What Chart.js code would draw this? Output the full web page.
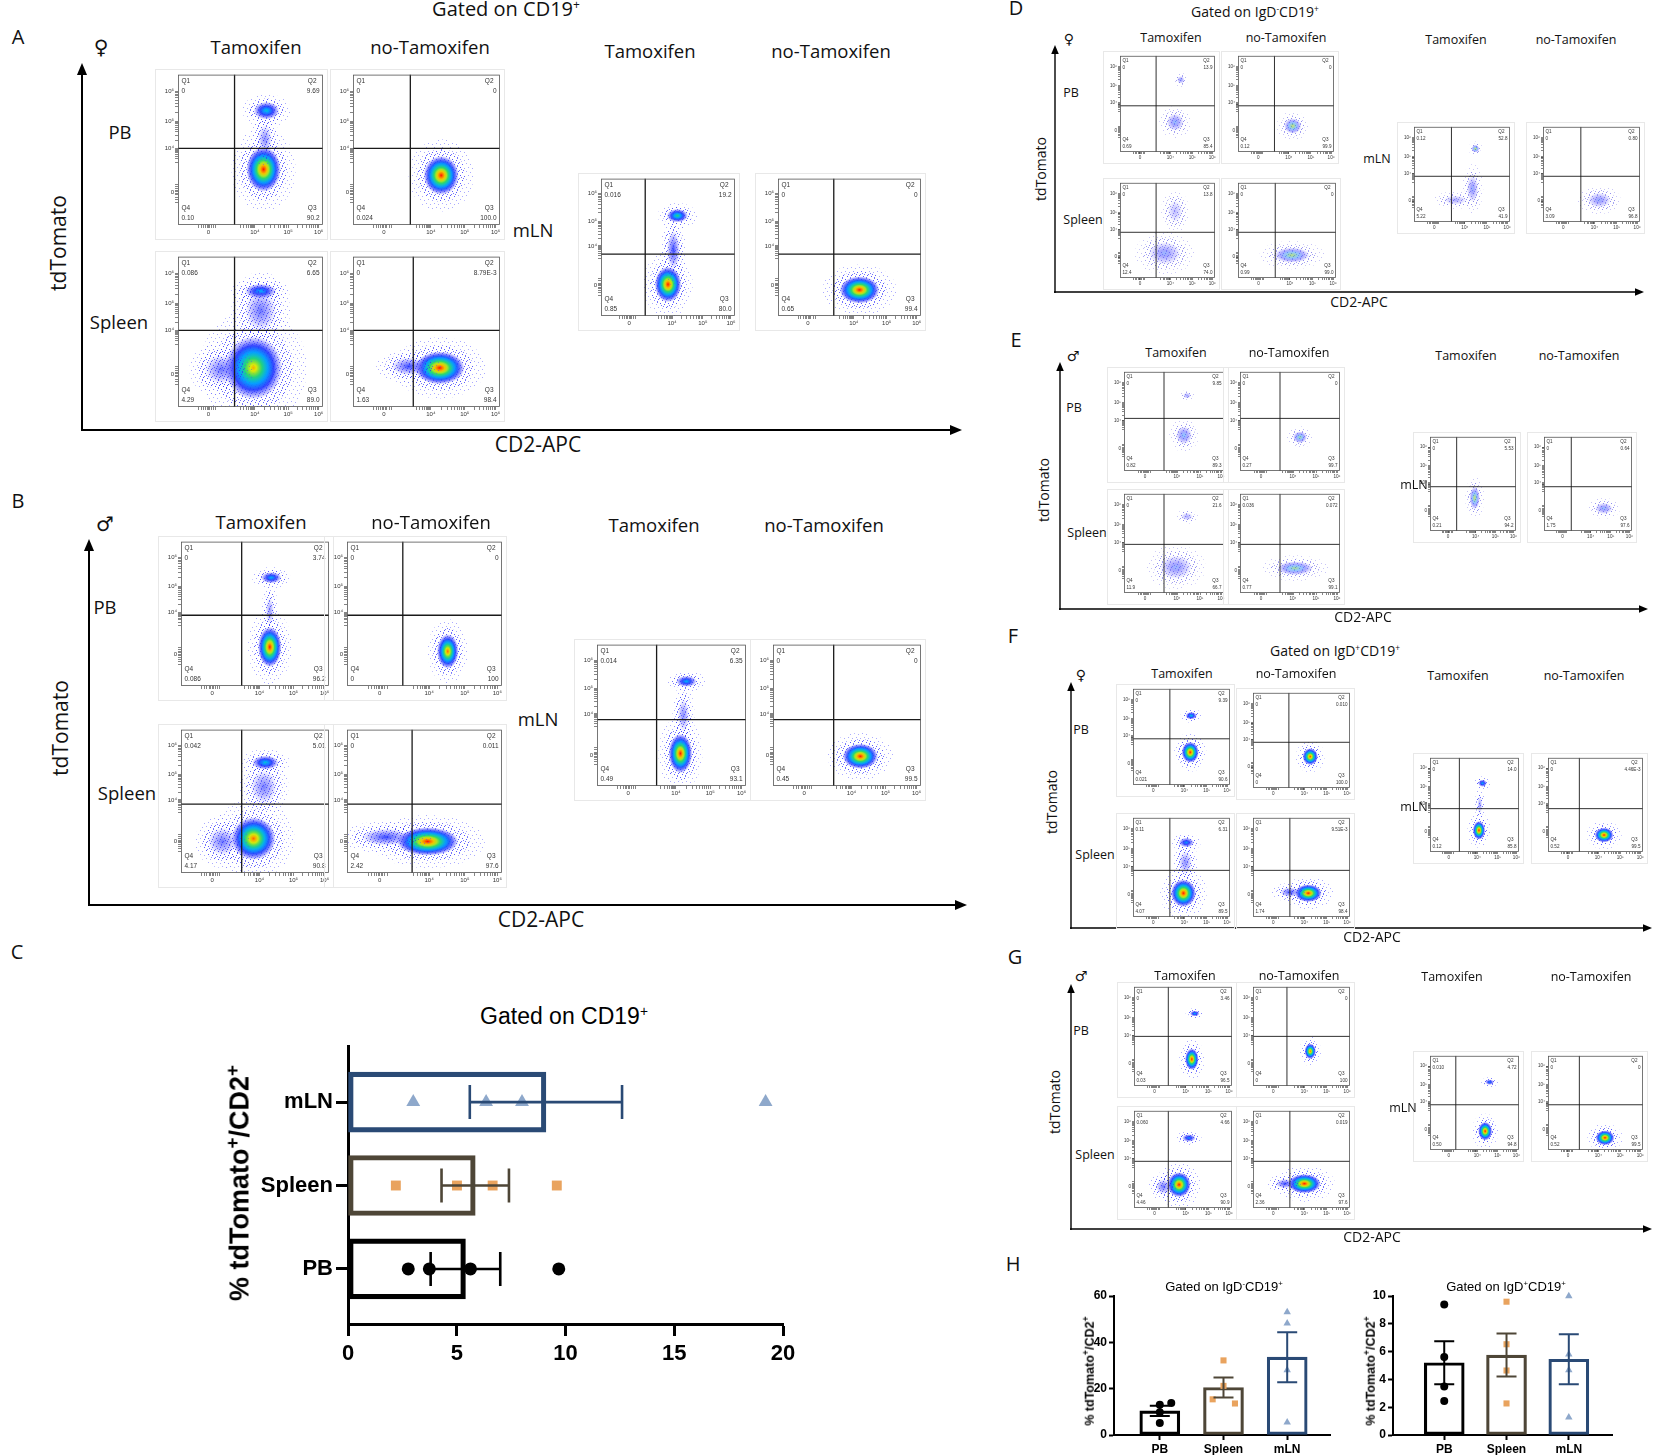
<!DOCTYPE html>
<html>
<head>
<meta charset="utf-8">
<script src="https://cdn.jsdelivr.net/npm/chart.js@4.4.1/dist/chart.umd.min.js"></script>
<style>
  body { margin: 0; background: #fff; }
  #fig { position: relative; width: 1654px; height: 1455px; overflow: hidden; font-family: "Open Sans", "Noto Sans", sans-serif; color: #111; }
  .t { position: absolute; transform: translate(-50%, -50%); white-space: nowrap; line-height: 1; }
  .b { font-family: "Liberation Sans", Arial, sans-serif; font-weight: bold; color: #000; }
  .g { font-family: "Liberation Sans", Arial, sans-serif; color: #000; }
  canvas { position: absolute; }
  canvas.fc { box-shadow: 0 0 0 1px #e8e8e8; }
  sup { font-size: 0.6em; vertical-align: 0.55em; line-height: 0; }
  .b sup { font-size: 0.7em; }
  svg { position: absolute; left: 0; top: 0; }
</style>
</head>
<body>
<div id="fig"><svg id="arrows" width="1654" height="1455"></svg></div>
<script>
// ---------- data: panel C (gated on CD19+) ----------
const cCats = ["PB", "Spleen", "mLN"];
const cMeans = [5.4, 5.85, 9.1];
const cSem = [1.6, 1.55, 3.5];
const cPB = [2.77, 3.74, 5.63, 9.69];
const cSpleen = [2.2, 5.01, 6.65, 9.6];
const cMLN = [3.0, 6.35, 8.0, 19.2];
const cTicks = [0, 5, 10, 15, 20];

// ---------- data: panel H ----------
const hCats = ["PB", "Spleen", "mLN"];
const hNegMeans = [10.4, 20.5, 33.6];
const hNegSem = [2.2, 4.3, 10.8];
const hNegPB = [13.1, 13.8, 9.8, 5.2];
const hNegSpleen = [32.2, 21.2, 15.4, 13.6];
const hNegMLN = [53.1, 48.2, 28.0, 5.5];
const hPosMeans = [5.2, 5.75, 5.45];
const hPosSem = [1.55, 1.55, 1.8];
const hPosPB = [9.38, 5.62, 3.49, 2.44];
const hPosSpleen = [9.59, 6.53, 4.64, 2.27];
const hPosMLN = [10.0, 5.81, 4.67, 1.27];

// ---------- data: flow plots ----------
// order in each panel: PB Tam, PB no-Tam, Spleen Tam, Spleen no-Tam, mLN Tam, mLN no-Tam
// gate = [CD2 gate, tdTomato gate], q = [Q1, Q2, Q4, Q3], pops = [x, y, spreadX, spreadY, peak]
const flowA = [
  { gate: [39, 51], q: ["0", "9.69", "0.10", "90.2"], pops: [[59, 37, 12, 15, 1.0], [61, 76, 9, 6, 0.45], [60, 57, 5, 10, 0.12]] },
  { gate: [39, 51], q: ["0", "0", "0.024", "100.0"], pops: [[60, 33, 12, 13, 1.0]] },
  { gate: [39, 51], q: ["0.086", "6.65", "4.29", "89.0"], pops: [[52, 26, 20, 21, 0.8], [57, 77, 11, 5, 0.4], [57, 64, 11, 14, 0.15], [30, 25, 12, 10, 0.15]] },
  { gate: [41, 51], q: ["0", "8.79E-3", "1.63", "98.4"], pops: [[59, 26, 17, 11, 1.0], [38, 27, 12, 6, 0.2]] },
  { gate: [33, 45], q: ["0.016", "19.2", "0.85", "80.0"], pops: [[50, 23, 10, 13, 1.0], [57, 73, 8, 5, 0.55], [54, 48, 5, 14, 0.2]] },
  { gate: [39, 45], q: ["0", "0", "0.65", "99.4"], pops: [[57, 19, 14, 10, 1.0]] }
];
const flowB = [
  { gate: [41, 49], q: ["0", "3.74", "0.086", "96.2"], pops: [[60, 27, 8, 14, 1.0], [61, 75, 7, 4, 0.4], [60, 52, 3, 10, 0.1]] },
  { gate: [36, 49], q: ["0", "0", "0", "100"], pops: [[65, 24, 7, 12, 0.9]] },
  { gate: [41, 48], q: ["0.042", "5.01", "4.17", "90.8"], pops: [[49, 24, 15, 15, 0.9], [57, 77, 9, 5, 0.45], [56, 60, 9, 12, 0.14], [28, 22, 10, 10, 0.15]] },
  { gate: [42, 48], q: ["0", "0.011", "2.42", "97.6"], pops: [[52, 22, 20, 10, 1.0], [25, 25, 16, 6, 0.2]] },
  { gate: [40, 47], q: ["0.014", "6.35", "0.49", "93.1"], pops: [[56, 23, 8, 14, 1.0], [60, 74, 7, 4, 0.4], [58, 50, 4, 12, 0.12]] },
  { gate: [41, 47], q: ["0", "0", "0.45", "99.5"], pops: [[59, 21, 12, 9, 1.0]] }
];
const flowD = [
  { gate: [38, 48], q: ["0", "13.9", "0.69", "85.4"], pops: [[58, 31, 9, 9, 0.35], [64, 75, 4, 4, 0.3]] },
  { gate: [38, 48], q: ["0", "0", "0.12", "99.9"], pops: [[57, 27, 9, 8, 0.7]] },
  { gate: [38, 48], q: ["0", "13.8", "12.4", "74.0"], pops: [[47, 26, 17, 12, 0.3], [58, 70, 8, 12, 0.15]] },
  { gate: [38, 48], q: ["0", "0", "0.99", "99.0"], pops: [[55, 24, 18, 8, 0.65]] },
  { gate: [39, 48], q: ["0.12", "52.8", "5.22", "41.9"], pops: [[64, 77, 4, 4, 0.75], [61, 35, 6, 14, 0.3], [43, 23, 12, 5, 0.2]] },
  { gate: [39, 48], q: ["0", "0.80", "3.09", "96.8"], pops: [[58, 23, 12, 8, 0.3]] }
];
const flowE = [
  { gate: [40, 53], q: ["0", "9.85", "0.82", "89.3"], pops: [[60, 36, 8, 9, 0.4], [63, 76, 4, 3, 0.25]] },
  { gate: [40, 53], q: ["0", "0", "0.27", "99.7"], pops: [[60, 34, 7, 6, 0.6]] },
  { gate: [40, 49], q: ["0", "21.6", "11.9", "66.7"], pops: [[52, 26, 16, 12, 0.3], [63, 77, 6, 4, 0.2]] },
  { gate: [40, 49], q: ["0.036", "0.072", "0.77", "99.1"], pops: [[55, 25, 18, 7, 0.6]] },
  { gate: [31, 47], q: ["0", "5.53", "0.21", "94.2"], pops: [[52, 35, 6, 12, 0.7]] },
  { gate: [31, 47], q: ["0", "0.64", "1.75", "97.6"], pops: [[68, 24, 10, 6, 0.35]] }
];
const flowF = [
  { gate: [38, 48], q: ["0", "9.39", "0.021", "90.6"], pops: [[59, 34, 9, 11, 1.0], [60, 72, 6, 4, 0.45]] },
  { gate: [37, 48], q: ["0", "0.010", "0", "100.0"], pops: [[59, 33, 8, 9, 0.95]] },
  { gate: [38, 47], q: ["0.11", "6.31", "4.07", "89.5"], pops: [[52, 24, 13, 14, 1.0], [55, 75, 8, 5, 0.35], [54, 55, 7, 12, 0.12]] },
  { gate: [38, 47], q: ["0", "9.51E-3", "1.74", "98.4"], pops: [[57, 24, 14, 9, 1.0], [38, 25, 10, 5, 0.2]] },
  { gate: [33, 46], q: ["0", "14.0", "0.12", "85.8"], pops: [[55, 23, 7, 10, 1.0], [59, 73, 5, 4, 0.4], [56, 50, 3, 10, 0.1]] },
  { gate: [33, 46], q: ["0", "4.46E-3", "0.52", "99.5"], pops: [[59, 18, 10, 8, 1.0]] }
];
const flowG = [
  { gate: [35, 50], q: ["0", "3.46", "0.03", "96.5"], pops: [[59, 27, 7, 11, 1.0], [62, 73, 5, 3, 0.4]] },
  { gate: [35, 50], q: ["0", "0", "0", "100"], pops: [[59, 35, 6, 8, 0.9]] },
  { gate: [35, 48], q: ["0.060", "4.66", "4.46", "90.9"], pops: [[46, 24, 12, 13, 1.0], [56, 72, 7, 4, 0.35], [30, 22, 8, 8, 0.15]] },
  { gate: [38, 48], q: ["0", "0.019", "2.36", "97.6"], pops: [[53, 25, 17, 10, 1.0], [33, 25, 10, 5, 0.2]] },
  { gate: [29, 48], q: ["0.010", "4.72", "0.50", "94.8"], pops: [[62, 20, 8, 10, 1.0], [67, 72, 5, 3, 0.35]] },
  { gate: [33, 48], q: ["0", "0", "0.52", "99.5"], pops: [[60, 13, 10, 8, 1.0]] }
];
// axis decades (display units) and their labels
const xDecades = [21, 53, 76, 97];
const yDecades = [22, 51, 69, 89];
const decadeText = ["0", "10\u2074", "10\u2075", "10\u2076"];

// ---------- layout ----------
const framesA = [[178, 73, 145, 152], [353, 73, 147, 152], [178, 255, 145, 152], [353, 255, 147, 152], [601, 177, 134, 139], [778, 177, 143, 139]];
const framesB = [[181, 540, 148, 146], [347, 540, 155, 146], [181, 728, 148, 145], [347, 728, 155, 145], [597, 643, 149, 143], [773, 643, 148, 143]];
const framesD = [[1120, 55, 95, 97], [1238, 55, 96, 97], [1120, 182, 95, 96], [1238, 182, 98, 96], [1414, 126, 96, 96], [1543, 126, 97, 96]];
const framesE = [[1124, 371, 100, 100], [1240, 371, 100, 100], [1124, 493, 100, 100], [1240, 493, 100, 100], [1430, 436, 86, 95], [1544, 436, 88, 95]];
const framesF = [[1133, 688, 97, 97], [1253, 692, 97, 96], [1133, 817, 97, 100], [1253, 817, 97, 100], [1430, 757, 89, 95], [1548, 757, 95, 95]];
const framesG = [[1134, 986, 98, 100], [1253, 986, 97, 100], [1134, 1110, 98, 98], [1253, 1110, 97, 98], [1430, 1055, 89, 95], [1548, 1055, 95, 95]];

const fig = document.getElementById("fig");
const svg = document.getElementById("arrows");
Chart.defaults.font.family = '"Liberation Sans", Arial, sans-serif';

function txt(html, x, y, size, cls, extra) {
  const el = document.createElement("div");
  el.className = "t" + (cls ? " " + cls : "");
  el.style.cssText = "left:" + x + "px;top:" + y + "px;font-size:" + size + "px;" + (extra || "");
  el.innerHTML = html;
  fig.appendChild(el);
}
const vert = "transform:translate(-50%,-50%) rotate(-90deg);";

function arrow(x1, y1, x2, y2, w, head) {
  const dx = Math.sign(x2 - x1), dy = Math.sign(y2 - y1);
  const bx = x2 - dx * head, by = y2 - dy * head;
  const ns = "http://www.w3.org/2000/svg";
  const ln = document.createElementNS(ns, "line");
  ln.setAttribute("x1", x1); ln.setAttribute("y1", y1);
  ln.setAttribute("x2", bx); ln.setAttribute("y2", by);
  ln.setAttribute("stroke", "#000"); ln.setAttribute("stroke-width", w);
  svg.appendChild(ln);
  const hw = head * 0.42;
  const pg = document.createElementNS(ns, "polygon");
  pg.setAttribute("points", x2 + "," + y2 + " " + (bx - dy * hw) + "," + (by + dx * hw) + " " + (bx + dy * hw) + "," + (by - dx * hw));
  pg.setAttribute("fill", "#000");
  svg.appendChild(pg);
}

// density colour map for the flow plots
const hotStops = [
  [0, 120, 120, 255, 0], [0.06, 90, 90, 255, 0.4], [0.2, 30, 50, 255, 0.9], [0.38, 0, 170, 255, 1],
  [0.55, 40, 215, 110, 1], [0.72, 235, 235, 0, 1], [0.88, 255, 120, 0, 1], [1, 255, 20, 0, 1]
];
function cmap(d, pale) {
  d = Math.max(0, Math.min(1, d));
  let i = 0;
  while (i < hotStops.length - 2 && d > hotStops[i + 1][0]) i++;
  const a = hotStops[i], b = hotStops[i + 1];
  const f = (d - a[0]) / (b[0] - a[0]);
  const c = [1, 2, 3, 4].map(k => a[k] + (b[k] - a[k]) * f);
  if (pale) { c[0] = c[0] * 0.55 + 130 * 0.45; c[1] = c[1] * 0.65 + 120 * 0.35; c[3] *= 0.55; }
  return "rgba(" + Math.round(c[0]) + "," + Math.round(c[1]) + "," + Math.round(c[2]) + "," + c[3].toFixed(3) + ")";
}

// small dotted texture for the sparse events around each population
function dotTile(color, n) {
  const t = document.createElement("canvas");
  t.width = t.height = 8;
  const c = t.getContext("2d");
  c.fillStyle = color;
  [[1, 1], [5, 2], [7, 5], [3, 6], [6, 7], [0, 4], [4, 4], [2, 3], [6, 0]].slice(0, n).forEach(([a, b]) => c.fillRect(a, b, 1, 1));
  return t;
}
const tileHotDense = dotTile("rgba(50,50,255,0.9)", 9);
const tileHotSparse = dotTile("rgba(80,80,255,0.8)", 4);
const tilePaleDense = dotTile("rgba(120,115,235,0.9)", 9);
const tilePaleSparse = dotTile("rgba(140,135,235,0.8)", 4);

function drawPop(ctx, xs, ys, p, pale) {
  const [x, y, sx, sy, lv] = p;
  const cx = xs.getPixelForValue(x), cy = ys.getPixelForValue(y);
  const rx = Math.abs(xs.getPixelForValue(x + sx) - cx);
  const ry = Math.abs(ys.getPixelForValue(y + sy) - cy);
  // sparse halos of single events
  [[1.85, pale ? tilePaleSparse : tileHotSparse, 0.6], [1.35, pale ? tilePaleDense : tileHotDense, 0.75]].forEach(([k, tile, al]) => {
    ctx.save();
    ctx.globalAlpha = al;
    ctx.fillStyle = ctx.createPattern(tile, "repeat");
    ctx.beginPath();
    ctx.ellipse(cx, cy, rx * k, ry * k, 0, 0, Math.PI * 2);
    ctx.fill();
    ctx.restore();
  });
  // density core
  ctx.save();
  ctx.translate(cx, cy);
  ctx.scale(rx, ry);
  const g = ctx.createRadialGradient(0, 0, 0, 0, 0, 1);
  for (let i = 0; i <= 10; i++) {
    const t = i / 10;
    g.addColorStop(t, cmap(lv * Math.pow(1 - t, 1.15), pale));
  }
  ctx.fillStyle = g;
  ctx.beginPath();
  ctx.arc(0, 0, 1, 0, Math.PI * 2);
  ctx.fill();
  ctx.restore();
}

function minorTicks(dec) {
  const out = [];
  for (let j = 1; j < 3; j++) {
    const span = dec[j + 1] - dec[j];
    for (let k = 2; k < 10; k++) out.push(dec[j] + span * Math.log10(k));
  }
  const s0 = (dec[1] - dec[0]) * 0.45;
  for (let k = 2; k < 10; k++) out.push(dec[1] - s0 + s0 * Math.log10(k));
  [-7, -5, -3.5, -2, -1, 1, 2, 3.5, 5].forEach(o => out.push(dec[0] + o));
  return out;
}
const xTickPos = xDecades.concat(minorTicks(xDecades));
const yTickPos = yDecades.concat(minorTicks(yDecades));

function flowLayer(d, small, pale) {
  return {
    id: "flowLayer",
    beforeDatasetsDraw(chart) {
      const { ctx, chartArea: a, scales: { x, y } } = chart;
      ctx.save();
      ctx.beginPath();
      ctx.rect(a.left, a.top, a.right - a.left, a.bottom - a.top);
      ctx.clip();
      d.pops.forEach(p => drawPop(ctx, x, y, p, pale));
      ctx.restore();
    },
    afterDraw(chart) {
      const { ctx, chartArea: a } = chart;
      ctx.save();
      ctx.strokeStyle = "#555";
      ctx.lineWidth = 0.8;
      ctx.strokeRect(a.left + 0.5, a.top + 0.5, a.right - a.left - 1, a.bottom - a.top - 1);
      const fs = small ? 4.6 : 6.5;
      const pad = small ? 2.5 : 3.5, lh = fs * 1.55;
      ctx.fillStyle = "#333";
      ctx.font = fs + 'px "Liberation Sans", Arial, sans-serif';
      ctx.textBaseline = "top";
      ctx.textAlign = "left";
      ctx.fillText("Q1", a.left + pad, a.top + pad);
      ctx.fillText(d.q[0], a.left + pad, a.top + pad + lh);
      ctx.textAlign = "right";
      ctx.fillText("Q2", a.right - pad - 3, a.top + pad);
      ctx.fillText(d.q[1], a.right - pad, a.top + pad + lh);
      ctx.textBaseline = "bottom";
      ctx.textAlign = "left";
      ctx.fillText("Q4", a.left + pad, a.bottom - pad - lh);
      ctx.fillText(d.q[2], a.left + pad, a.bottom - pad);
      ctx.textAlign = "right";
      ctx.fillText("Q3", a.right - pad - 3, a.bottom - pad - lh);
      ctx.fillText(d.q[3], a.right - pad, a.bottom - pad);
      ctx.restore();
    }
  };
}

function flowPlot(frame, d, small, pale) {
  const [l, t, w, h] = frame;
  const ml = small ? 16 : 22, mb = small ? 11 : 14, mt = 3, mr = 4;
  const cv = document.createElement("canvas");
  cv.className = "fc";
  cv.width = w + ml + mr;
  cv.height = h + mt + mb;
  cv.style.left = (l - ml) + "px";
  cv.style.top = (t - mt) + "px";
  fig.appendChild(cv);
  const fs = small ? 4.6 : 6;
  const gateLine = { showLine: true, pointRadius: 0, borderColor: "#1a1a1a", borderWidth: small ? 0.9 : 1.3, clip: 0 };
  const axis = (pos, dec, size) => ({
    min: 0, max: 100, offset: false,
    afterBuildTicks: s => { s.ticks = pos.map(v => ({ value: v })); },
    ticks: { autoSkip: false, maxRotation: 0, padding: 1, color: "#333", font: { size: fs },
      callback: v => { const i = dec.indexOf(v); return i >= 0 ? decadeText[i] : ""; } },
    grid: { offset: false, drawOnChartArea: false, tickLength: small ? 2 : 3, tickWidth: 0.6, tickColor: "#333" },
    border: { display: false },
    afterFit: s => { if (size.h) s.height = size.h; else s.width = size.w; }
  });
  new Chart(cv, {
    type: "scatter",
    data: {
      datasets: [
        Object.assign({ data: [{ x: d.gate[0], y: 0 }, { x: d.gate[0], y: 100 }] }, gateLine),
        Object.assign({ data: [{ x: 0, y: d.gate[1] }, { x: 100, y: d.gate[1] }] }, gateLine)
      ]
    },
    options: {
      responsive: false, animation: false, events: [],
      layout: { padding: { top: mt, right: mr } },
      plugins: { legend: { display: false }, tooltip: { enabled: false } },
      scales: { x: axis(xTickPos, xDecades, { h: mb }), y: axis(yTickPos, yDecades, { w: ml }) }
    },
    plugins: [flowLayer(d, small, pale)]
  });
}

// ---------- error bars (through the chart scales) ----------
function errorBars(means, sems, colors, horizontal, cap, width) {
  return {
    id: "errorBars",
    afterDatasetsDraw(chart) {
      const { ctx, scales: { x, y } } = chart;
      ctx.save();
      ctx.lineWidth = width;
      ctx.lineCap = "butt";
      means.forEach((m, i) => {
        ctx.strokeStyle = colors[i];
        ctx.beginPath();
        if (horizontal) {
          const p = y.getPixelForValue(i), a = x.getPixelForValue(m - sems[i]), b = x.getPixelForValue(m + sems[i]);
          ctx.moveTo(a, p); ctx.lineTo(b, p);
          ctx.moveTo(a, p - cap); ctx.lineTo(a, p + cap);
          ctx.moveTo(b, p - cap); ctx.lineTo(b, p + cap);
        } else {
          const p = x.getPixelForValue(i), a = y.getPixelForValue(m - sems[i]), b = y.getPixelForValue(m + sems[i]);
          ctx.moveTo(p, a); ctx.lineTo(p, b);
          ctx.moveTo(p - cap, a); ctx.lineTo(p + cap, a);
          ctx.moveTo(p - cap, b); ctx.lineTo(p + cap, b);
        }
        ctx.stroke();
      });
      ctx.restore();
    }
  };
}

function makeCanvas(l, t, w, h) {
  const cv = document.createElement("canvas");
  cv.width = w; cv.height = h;
  cv.style.left = l + "px"; cv.style.top = t + "px";
  fig.appendChild(cv);
  return cv;
}

const barColors = ["#000000", "#4e4637", "#2a4a75"];
const pointColors = ["#000000", "#e9a35e", "#8ea8cb"];
const pointStyles = ["circle", "rect", "triangle"];

// ---------- panel C ----------
(function () {
  const cv = makeCanvas(240, 1030, 580, 360);
  const bold = { size: 22, weight: "bold" };
  const pts = [cPB, cSpleen, cMLN];
  const sizes = [6.5, 7, 8];
  const axisGrid = { offset: false, drawOnChartArea: false, tickLength: 12, tickWidth: 3, tickColor: "#000" };
  new Chart(cv, {
    type: "bar",
    data: {
      datasets: [
        { type: "bar", indexAxis: "y", data: cMeans.map((v, i) => ({ x: v, y: i })), backgroundColor: "rgba(0,0,0,0)",
          borderColor: barColors, borderWidth: 4.5, borderSkipped: false, barThickness: 60, order: 2 }
      ].concat(pts.map((arr, i) => ({
        type: "scatter", data: arr.map(v => ({ x: v, y: i })), pointStyle: pointStyles[i], pointRadius: sizes[i],
        backgroundColor: pointColors[i], borderColor: pointColors[i], borderWidth: 0, clip: false, order: 1
      })))
    },
    options: {
      responsive: false, animation: false, events: [],
      layout: { padding: { top: 7, right: 37 } },
      plugins: { legend: { display: false }, tooltip: { enabled: false } },
      scales: {
        x: { type: "linear", position: "bottom", min: 0, max: 20, offset: false,
          afterBuildTicks: s => { s.ticks = cTicks.map(v => ({ value: v })); },
          ticks: { color: "#000", font: bold, padding: 5 },
          grid: axisGrid,
          border: { color: "#000", width: 3 },
          afterFit: s => { s.height = 66; } },
        y: { type: "linear", position: "left", min: -0.66, max: 2.67, offset: false,
          afterBuildTicks: s => { s.ticks = [0, 1, 2].map(v => ({ value: v })); },
          ticks: { color: "#000", font: bold, padding: 3, callback: v => cCats[v] },
          grid: axisGrid,
          border: { color: "#000", width: 3 },
          afterFit: s => { s.width = 108; } }
      }
    },
    plugins: [errorBars(cMeans, cSem, barColors, true, 17, 2.6)]
  });
})();

// ---------- panel H ----------
const hJitter = [[0, 0.18, 0, 0], [0, 0, -0.17, 0.18], [0, 0, 0, 0]];
function hChart(left, axisX, catX, means, sems, pts, yMax, yStep, jitter) {
  const cv = makeCanvas(left, 1280, 300, 175);
  const bold = { size: 12, weight: "bold" };
  const chartW = 300;
  const aLeft = axisX - left;
  const span = catX[1] - catX[0];
  const xMin = -(catX[0] - axisX) / span;
  const xMax = 2 + (catX[3] - catX[2]) / span;
  const axisGrid = { offset: false, drawOnChartArea: false, tickLength: 5, tickWidth: 2, tickColor: "#000" };
  new Chart(cv, {
    type: "bar",
    data: {
      datasets: [
        { type: "bar", data: means.map((v, i) => ({ x: i, y: v })), backgroundColor: "rgba(0,0,0,0)",
          borderColor: barColors, borderWidth: 2.5, borderSkipped: false, barThickness: 40, order: 2 }
      ].concat(pts.map((arr, i) => ({
        type: "scatter", data: arr.map((v, k) => ({ x: i + (jitter ? jitter[i][k] : 0), y: v })), pointStyle: pointStyles[i],
        pointRadius: i === 0 ? 4 : 4.3, backgroundColor: pointColors[i], borderWidth: 0, clip: false, order: 1
      })))
    },
    options: {
      responsive: false, animation: false, events: [],
      layout: { padding: { top: 16, right: chartW - (catX[3] - left) } },
      plugins: { legend: { display: false }, tooltip: { enabled: false } },
      scales: {
        x: { type: "linear", min: xMin, max: xMax, offset: false,
          afterBuildTicks: s => { s.ticks = [0, 1, 2].map(v => ({ value: v })); },
          ticks: { color: "#000", font: bold, padding: 2, callback: v => hCats[v] },
          grid: axisGrid,
          border: { color: "#000", width: 2 },
          afterFit: s => { s.height = 20; } },
        y: { type: "linear", min: 0, max: yMax, offset: false,
          afterBuildTicks: s => { const t = []; for (let v = 0; v <= yMax; v += yStep) t.push({ value: v }); s.ticks = t; },
          ticks: { color: "#000", font: bold, padding: 2 },
          grid: axisGrid,
          border: { color: "#000", width: 2 },
          afterFit: s => { s.width = aLeft; } }
      }
    },
    plugins: [errorBars(means, sems, barColors, false, 10, 2)]
  });
}
hChart(1058, 1114, [1160, 1224, 1287, 1330], hNegMeans, hNegSem, [hNegPB, hNegSpleen, hNegMLN], 60, 20, hJitter);
hChart(1338, 1393, [1444, 1506, 1569, 1612], hPosMeans, hPosSem, [hPosPB, hPosSpleen, hPosMLN], 10, 2, null);

// ---------- flow panels ----------
flowA.forEach((d, i) => flowPlot(framesA[i], d, false, false));
flowB.forEach((d, i) => flowPlot(framesB[i], d, false, false));
flowD.forEach((d, i) => flowPlot(framesD[i], d, true, true));
flowE.forEach((d, i) => flowPlot(framesE[i], d, true, true));
flowF.forEach((d, i) => flowPlot(framesF[i], d, true, false));
flowG.forEach((d, i) => flowPlot(framesG[i], d, true, false));

// ---------- arrows ----------
arrow(82, 431, 82, 63, 2, 12); arrow(81, 430, 962, 430, 2, 12);
arrow(89, 906, 89, 539, 2, 12); arrow(88, 905, 967, 905, 2, 12);
arrow(1055, 293, 1055, 45, 1.4, 9); arrow(1054, 292, 1644, 292, 1.4, 9);
arrow(1060, 610, 1060, 362, 1.4, 9); arrow(1059, 609, 1648, 609, 1.4, 9);
arrow(1071, 929, 1071, 682, 1.4, 9); arrow(1070, 928, 1652, 928, 1.4, 9);
arrow(1071, 1230, 1071, 984, 1.4, 9); arrow(1070, 1229, 1652, 1229, 1.4, 9);

// ---------- text ----------
const letters = [["A", 18, 37], ["B", 18, 501], ["C", 17, 952], ["D", 1016, 8], ["E", 1016, 340], ["F", 1013, 636], ["G", 1015, 957], ["H", 1013, 1264]];
letters.forEach(([s, x, y]) => txt(s, x, y, 20));

txt("Gated on CD19<sup>+</sup>", 506, 9, 20);
txt("Gated on IgD<sup>-</sup>CD19<sup>+</sup>", 1255, 12, 14);
txt("Gated on IgD<sup>+</sup>CD19<sup>+</sup>", 1335, 651, 14);
txt("Gated on CD19<sup>+</sup>", 564, 1016, 23, "g");
txt("Gated on IgD<sup>-</sup>CD19<sup>+</sup>", 1224, 1286, 13, "g");
txt("Gated on IgD<sup>+</sup>CD19<sup>+</sup>", 1506, 1286, 13, "g");

// sex symbols
[["\u2640", 101, 47, 20], ["\u2642", 105, 524, 20], ["\u2640", 1069, 39, 14], ["\u2642", 1073, 356, 14], ["\u2640", 1081, 675, 14], ["\u2642", 1081, 976, 14]]
  .forEach(([s, x, y, f]) => txt(s, x, y, f, "", "font-family:'DejaVu Sans',sans-serif;"));

// column heads
const heads = [
  [[256, 47], [430, 47], [650, 51], [831, 51], 18.5],
  [[261, 522], [431, 522], [654, 525], [824, 525], 18.5],
  [[1171, 38], [1286, 38], [1456, 40], [1576, 40], 12.5],
  [[1176, 353], [1289, 353], [1466, 356], [1579, 356], 12.5],
  [[1182, 674], [1296, 674], [1458, 676], [1584, 676], 12.5],
  [[1185, 976], [1299, 976], [1452, 977], [1591, 977], 12.5]
];
heads.forEach(h => {
  txt("Tamoxifen", h[0][0], h[0][1], h[4]); txt("no-Tamoxifen", h[1][0], h[1][1], h[4]);
  txt("Tamoxifen", h[2][0], h[2][1], h[4]); txt("no-Tamoxifen", h[3][0], h[3][1], h[4]);
});

// row heads
const rows = [
  [[120, 132], [119, 322], [533, 230], 18.5],
  [[105, 607], [127, 793], [538, 719], 18.5],
  [[1071, 93], [1083, 220], [1377, 159], 12.5],
  [[1074, 408], [1087, 533], [1414, 485], 12.5],
  [[1081, 730], [1095, 855], [1414, 807], 12.5],
  [[1081, 1031], [1095, 1155], [1403, 1108], 12.5]
];
rows.forEach(r => { txt("PB", r[0][0], r[0][1], r[3]); txt("Spleen", r[1][0], r[1][1], r[3]); txt("mLN", r[2][0], r[2][1], r[3]); });

// axis titles
[[58, 243, 21], [60, 728, 21], [1041, 169, 14], [1044, 490, 14], [1052, 802, 14], [1055, 1102, 14]]
  .forEach(([x, y, f]) => txt("tdTomato", x, y, f, "", vert));
[[538, 444, 21], [541, 919, 21], [1359, 302, 14], [1363, 617, 14], [1372, 937, 14], [1372, 1237, 14]]
  .forEach(([x, y, f]) => txt("CD2-APC", x, y, f));

txt("% tdTomato<sup>+</sup>/CD2<sup>+</sup>", 240, 1183, 27, "b", vert);
txt("% tdTomato<sup>+</sup>/CD2<sup>+</sup>", 1090, 1371, 12.5, "b", vert);
txt("% tdTomato<sup>+</sup>/CD2<sup>+</sup>", 1371, 1371, 12.5, "b", vert);
</script>
</body>
</html>
